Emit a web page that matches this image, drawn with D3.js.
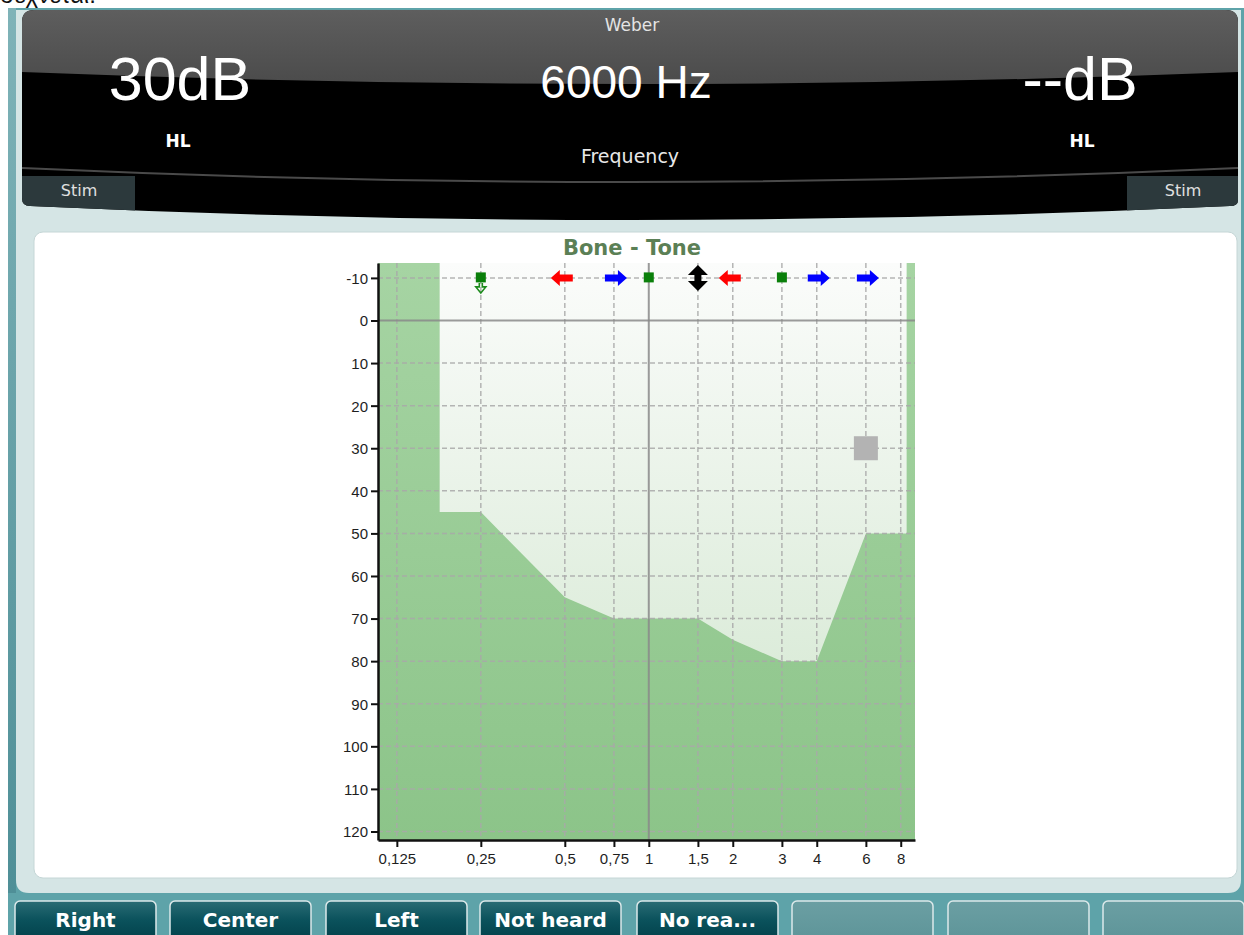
<!DOCTYPE html>
<html>
<head>
<meta charset="utf-8">
<script src="https://cdn.jsdelivr.net/npm/d3@7"></script>
<style>
  body { margin: 0; background: #fff; overflow: hidden; }
  svg { display: block; }
</style>
</head>
<body>
<div id="chart"></div>
<script>
// audiogram data
var freqTicks = [0.125, 0.25, 0.5, 0.75, 1, 1.5, 2, 3, 4, 6, 8];
var freqLabels = ["0,125", "0,25", "0,5", "0,75", "1", "1,5", "2", "3", "4", "6", "8"];
var dbTicks = [-10, 0, 10, 20, 30, 40, 50, 60, 70, 80, 90, 100, 110, 120];

// normal bone range (light area), the rest is shaded
var normalFreq = [0.178, 0.178, 0.25, 0.5, 0.75, 1, 1.5, 2, 3, 4, 6, 8.4, 8.4];
var normalDb = [null, 45, 45, 65, 70, 70, 70, 75, 80, 80, 50, 50, null];

// weber symbols on the -10 row
var symbolDb = -10;
var squareFreqs = [0.25, 1, 3];
var noResponseFreqs = [0.25];
var leftArrowFreqs = [0.5, 2];
var rightArrowFreqs = [0.75, 4, 6];
var bothFreqs = [1.5];

// current cursor
var cursorFreq = 6;
var cursorDb = 30;

var buttonLabels = ["Right", "Center", "Left", "Not heard", "No rea...", "", "", ""];

var W = 1244, H = 935;
var svg = d3.select("#chart").append("svg")
    .attr("width", W)
    .attr("height", H);

var defs = svg.append("defs");

function vgrad(id, stops) {
    var g = defs.append("linearGradient").attr("id", id)
        .attr("x1", 0).attr("y1", 0).attr("x2", 0).attr("y2", 1);
    stops.forEach(function(s) {
        g.append("stop").attr("offset", s[0]).attr("stop-color", s[1]);
    });
}
vgrad("topGray", [[0, "#5e5e5e"], [1, "#4b4b4b"]]);
vgrad("btnDark", [[0, "#2a6c75"], [0.45, "#0b525c"], [1, "#003e48"]]);
vgrad("btnEmpty", [[0, "#6b9fa3"], [1, "#5d9498"]]);
vgrad("darkGreen", [[0, "#a6d4a3"], [1, "#8cc489"]]);
vgrad("lightGreen", [[0, "#fbfcfb"], [1, "#dcecda"]]);
vgrad("leftEdge", [[0, "#7fb3b8"], [1, "#4f8f97"]]);

// cut-off text above the window
svg.append("text")
    .attr("x", 0).attr("y", 3)
    .attr("font-family", "Liberation Sans, Arial, sans-serif")
    .attr("font-size", 24)
    .attr("fill", "#111")
    .text("σεχνεται.");

// window frame
svg.append("rect")
    .attr("x", 8).attr("y", 8).attr("width", W - 8).attr("height", H - 8)
    .attr("fill", "#5ea3a9");
svg.append("rect")
    .attr("x", 8).attr("y", 8).attr("width", 8).attr("height", 885)
    .attr("fill", "url(#leftEdge)");
svg.append("path")
    .attr("d", "M16,10 H1241 V880 Q1241,893 1228,893 H29 Q16,893 16,880 Z")
    .attr("fill", "#d5e5e5");

// top dark display
var topG = svg.append("g");
defs.append("clipPath").attr("id", "panelClip")
    .append("path")
    .attr("d", "M34,10 H1226 Q1238,10 1238,22 V200 Q1238,206 1230,206 Q630,234 30,206 Q22,206 22,198 V22 Q22,10 34,10 Z");
var panel = topG.append("g").attr("clip-path", "url(#panelClip)");
panel.append("rect").attr("x", 22).attr("y", 10).attr("width", 1216).attr("height", 230).attr("fill", "#000");
panel.append("path")
    .attr("d", "M22,10 H1238 V72 Q630,96 22,72 Z")
    .attr("fill", "url(#topGray)");
panel.append("path")
    .attr("d", "M22,168 Q630,196 1238,168")
    .attr("fill", "none").attr("stroke", "#4a4a4a").attr("stroke-width", 2);
panel.append("rect").attr("x", 22).attr("y", 176).attr("width", 113).attr("height", 40).attr("fill", "#2c393c");
panel.append("rect").attr("x", 1127).attr("y", 176).attr("width", 111).attr("height", 40).attr("fill", "#2c393c");

var uiFont = "DejaVu Sans, Verdana, sans-serif";
var bigFont = "Liberation Sans, Arial, sans-serif";

function label(x, y, txt, size, opts) {
    opts = opts || {};
    return topG.append("text")
        .attr("x", x).attr("y", y)
        .attr("text-anchor", opts.anchor || "middle")
        .attr("font-family", opts.family || uiFont)
        .attr("font-size", size)
        .attr("font-weight", opts.weight || "normal")
        .attr("fill", opts.fill || "#fff")
        .text(txt);
}
label(632, 31, "Weber", 17, {fill: "#e4e4e4"});
label(180, 100, "30dB", 61, {family: bigFont});
label(626, 98, "6000 Hz", 46, {family: bigFont});
label(1080, 100, "--dB", 61, {family: bigFont});
label(178, 147, "HL", 17, {weight: "bold"});
label(1082, 147, "HL", 17, {weight: "bold"});
label(630, 163, "Frequency", 19, {fill: "#e8e8e8"});
label(79, 196, "Stim", 16, {fill: "#e0e0e0"});
label(1183, 196, "Stim", 16, {fill: "#e0e0e0"});

// chart card
svg.append("rect")
    .attr("x", 34).attr("y", 232).attr("width", 1203).attr("height", 646)
    .attr("rx", 9)
    .attr("fill", "#fff")
    .attr("stroke", "#c5d6d6").attr("stroke-width", 1);

// scales
var x = d3.scaleLog().domain([0.107, 9]).range([378, 915]);
var y = d3.scaleLinear().domain([-13.5, 122]).range([263, 840]);
var topDb = y.domain()[0];

var plot = svg.append("g");
plot.append("rect")
    .attr("x", x.range()[0]).attr("y", y.range()[0])
    .attr("width", x.range()[1] - x.range()[0])
    .attr("height", y.range()[1] - y.range()[0])
    .attr("fill", "url(#darkGreen)");

var normalPts = normalFreq.map(function(f, i) {
    return [f, normalDb[i] == null ? topDb : normalDb[i]];
});
var area = d3.line()
    .x(function(d) { return x(d[0]); })
    .y(function(d) { return y(d[1]); });
plot.append("path")
    .datum(normalPts)
    .attr("d", function(d) { return area(d) + "Z"; })
    .attr("fill", "url(#lightGreen)");

// grid
plot.selectAll(".vgrid").data(freqTicks).enter().append("line")
    .attr("x1", function(d) { return x(d); })
    .attr("x2", function(d) { return x(d); })
    .attr("y1", y.range()[0]).attr("y2", y.range()[1])
    .attr("stroke", function(d) { return d === 1 ? "#8a8a8a" : "#a9a9a9"; })
    .attr("stroke-width", function(d) { return d === 1 ? 2 : 1.5; })
    .attr("stroke-dasharray", function(d) { return d === 1 ? null : "5,3"; })
    .attr("opacity", 0.85);
plot.selectAll(".hgrid").data(dbTicks).enter().append("line")
    .attr("x1", x.range()[0]).attr("x2", x.range()[1])
    .attr("y1", function(d) { return y(d); })
    .attr("y2", function(d) { return y(d); })
    .attr("stroke", function(d) { return d === 0 ? "#8a8a8a" : "#a9a9a9"; })
    .attr("stroke-width", function(d) { return d === 0 ? 2 : 1.5; })
    .attr("stroke-dasharray", function(d) { return d === 0 ? null : "5,3"; })
    .attr("opacity", 0.85);

// axes
var yAxis = d3.axisLeft(y).tickValues(dbTicks).tickSize(7).tickSizeOuter(0).tickPadding(3)
    .tickFormat(function(d) { return String(d); });
var xAxis = d3.axisBottom(x).tickValues(freqTicks).tickSize(7).tickSizeOuter(0).tickPadding(6)
    .tickFormat(function(d, i) { return freqLabels[i]; });

var gy = svg.append("g").attr("transform", "translate(" + x.range()[0] + ",0)").call(yAxis);
var gx = svg.append("g").attr("transform", "translate(0," + y.range()[1] + ")").call(xAxis);
[gx, gy].forEach(function(g) {
    g.select(".domain").attr("stroke", "#111").attr("stroke-width", 2.5);
    g.selectAll(".tick line").attr("stroke", "#111").attr("stroke-width", 2);
    g.selectAll(".tick text")
        .attr("fill", "#1e1e1e")
        .attr("font-family", "Liberation Sans, Arial, sans-serif")
        .attr("font-size", 15);
});
gy.selectAll(".tick text").attr("dy", "0.36em");

// title
svg.append("text")
    .attr("x", 632).attr("y", 255)
    .attr("text-anchor", "middle")
    .attr("font-family", uiFont)
    .attr("font-weight", "bold")
    .attr("font-size", 21)
    .attr("fill", "#5b7f55")
    .text("Bone - Tone");

// symbols
var sy = y(symbolDb);
var sym = svg.append("g");

sym.selectAll(".sq").data(squareFreqs).enter().append("rect")
    .attr("x", function(d) { return x(d) - 5; })
    .attr("y", sy - 5.5)
    .attr("width", 10).attr("height", 10)
    .attr("fill", "#0a7f0a");

sym.selectAll(".nr").data(noResponseFreqs).enter().append("path")
    .attr("d", function(d) {
        var cx = x(d), t = sy + 5;
        return "M" + (cx - 1.5) + "," + t + " V" + (t + 4) + " H" + (cx - 5) +
            " L" + cx + "," + (t + 10) + " L" + (cx + 5) + "," + (t + 4) +
            " H" + (cx + 1.5) + " V" + t;
    })
    .attr("fill", "none").attr("stroke", "#1c8a1c").attr("stroke-width", 1.6);

function horizArrow(cx, dir) {
    // dir = -1 points left, 1 points right
    var hw = 11, head = 9;
    var tip = cx + dir * hw, base = cx + dir * (hw - head), tail = cx - dir * hw;
    return "M" + tip + "," + sy +
        " L" + base + "," + (sy - 8) +
        " L" + base + "," + (sy - 3.5) +
        " L" + tail + "," + (sy - 3.5) +
        " L" + tail + "," + (sy + 3.5) +
        " L" + base + "," + (sy + 3.5) +
        " L" + base + "," + (sy + 8) + " Z";
}
sym.selectAll(".la").data(leftArrowFreqs).enter().append("path")
    .attr("d", function(d) { return horizArrow(x(d) - 3, -1); })
    .attr("fill", "#ff0000");
sym.selectAll(".ra").data(rightArrowFreqs).enter().append("path")
    .attr("d", function(d) { return horizArrow(x(d) + 2, 1); })
    .attr("fill", "#0000ff");
sym.selectAll(".ba").data(bothFreqs).enter().append("path")
    .attr("d", function(d) {
        var cx = x(d);
        return "M" + cx + "," + (sy - 13) +
            " L" + (cx + 10) + "," + (sy - 3) +
            " L" + (cx + 3.5) + "," + (sy - 3) +
            " L" + (cx + 3.5) + "," + (sy + 3) +
            " L" + (cx + 10) + "," + (sy + 3) +
            " L" + cx + "," + (sy + 13) +
            " L" + (cx - 10) + "," + (sy + 3) +
            " L" + (cx - 3.5) + "," + (sy + 3) +
            " L" + (cx - 3.5) + "," + (sy - 3) +
            " L" + (cx - 10) + "," + (sy - 3) + " Z";
    })
    .attr("fill", "#000");

// cursor marker
svg.append("rect")
    .attr("x", x(cursorFreq) - 12).attr("y", y(cursorDb) - 12)
    .attr("width", 24).attr("height", 24)
    .attr("fill", "#b3b3b3");

// bottom buttons
var btnX = [15, 170, 326, 480, 637, 792, 948, 1103];
var btns = svg.selectAll(".btn").data(buttonLabels).enter().append("g");
btns.append("rect")
    .attr("x", function(d, i) { return btnX[i]; })
    .attr("y", 901).attr("width", 141).attr("height", 42)
    .attr("rx", 5)
    .attr("fill", function(d) { return d ? "url(#btnDark)" : "url(#btnEmpty)"; })
    .attr("stroke", "#dce9ea").attr("stroke-width", 1.5);
btns.append("text")
    .attr("x", function(d, i) { return btnX[i] + 70.5; })
    .attr("y", 927)
    .attr("text-anchor", "middle")
    .attr("font-family", uiFont)
    .attr("font-weight", "bold")
    .attr("font-size", 20)
    .attr("fill", "#fff")
    .text(function(d) { return d; });
</script>
</body>
</html>
